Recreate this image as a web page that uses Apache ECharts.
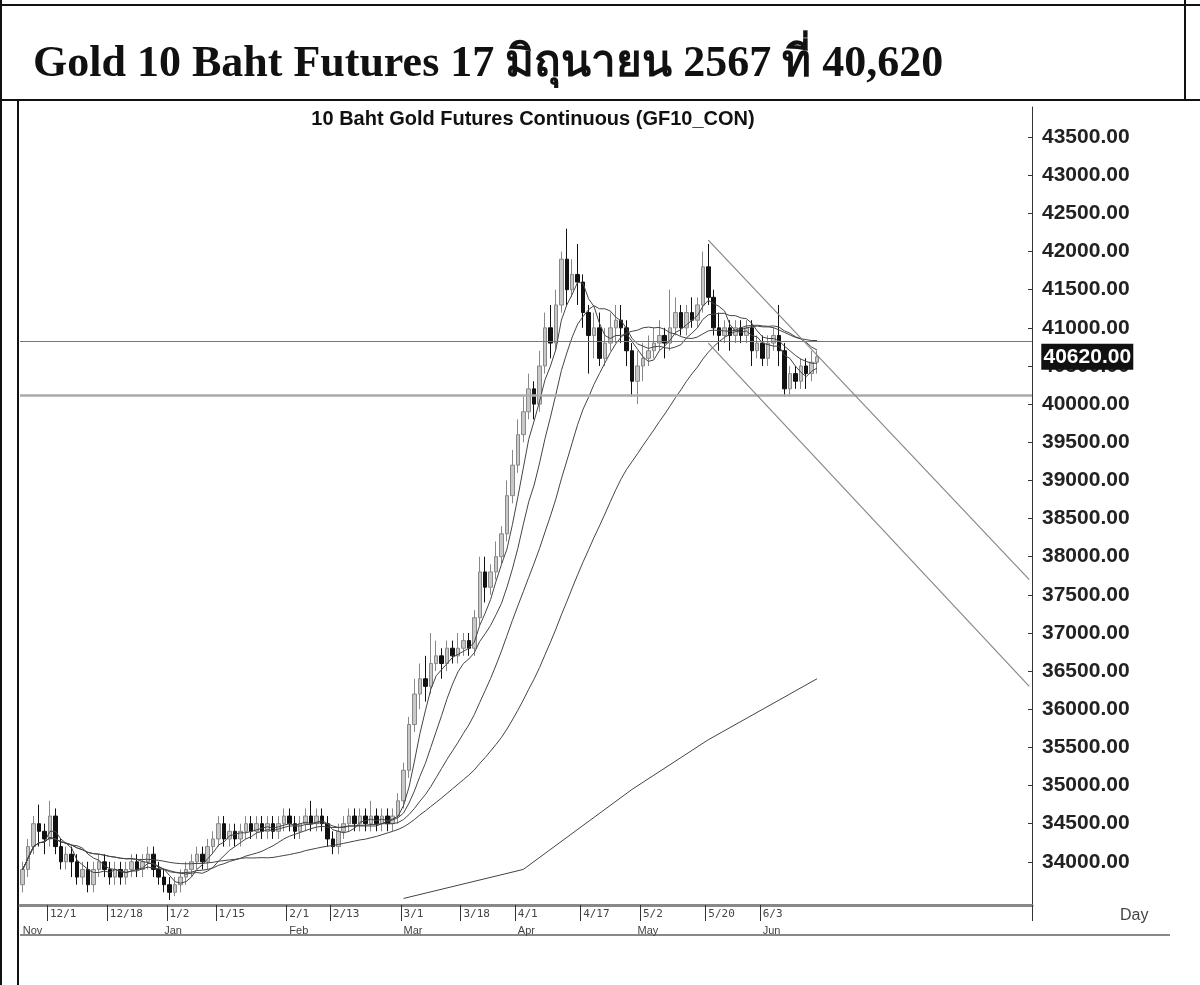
<!DOCTYPE html>
<html><head><meta charset="utf-8">
<script src="https://cdn.jsdelivr.net/npm/echarts@6/dist/echarts.min.js"></script>
<style>html,body{margin:0;padding:0;background:#fff}#c{width:1200px;height:985px}</style>
</head><body><div id="c"></div>
<script>
// [open, close, low, high] per trading day from 2023-11-24
const ohlc = [
[33700,33900,33600,34000],
[33900,34200,33800,34300],[34200,34500,34100,34600],[34500,34400,34200,34750],[34400,34300,34100,34500],[34300,34600,34200,34800],
[34600,34200,34100,34700],[34200,34000,33900,34300],[34000,34100,33900,34200],[34100,34000,33800,34200],[34000,33800,33700,34100],
[33800,33900,33700,34000],[33900,33700,33600,34000],[33700,33900,33600,34000],[33900,34000,33800,34100],[34000,33900,33800,34100],
[33900,33800,33700,34000],[33800,33900,33700,34000],[33900,33800,33700,34000],[33800,33900,33700,34000],[33900,34000,33800,34100],
[34000,33900,33800,34100],[33900,34000,33800,34100],[34000,34100,33900,34200],[34100,33900,33800,34200],[33900,33800,33700,34000],
[33800,33700,33600,33900],[33700,33600,33500,33800],[33600,33700,33550,33800],[33700,33800,33600,33900],[33800,33900,33700,34000],
[33900,34000,33800,34100],[34000,34100,33900,34200],[34100,34000,33900,34200],[34000,34200,33900,34300],[34200,34300,34100,34400],
[34300,34500,34200,34600],[34500,34300,34200,34600],[34300,34400,34200,34500],[34400,34300,34200,34500],[34300,34400,34200,34500],
[34400,34500,34300,34600],[34500,34400,34300,34600],[34400,34500,34300,34600],[34500,34400,34300,34600],[34400,34500,34300,34600],
[34500,34400,34300,34600],[34400,34500,34300,34600],[34500,34600,34400,34700],[34600,34500,34400,34700],[34500,34400,34300,34600],
[34400,34500,34300,34600],[34500,34600,34400,34700],[34600,34500,34400,34800],[34500,34600,34400,34700],[34600,34500,34400,34700],
[34500,34300,34200,34600],[34300,34200,34100,34400],[34200,34400,34100,34500],[34400,34500,34300,34600],[34500,34600,34400,34700],
[34600,34500,34400,34700],[34500,34600,34400,34700],[34600,34500,34400,34700],[34500,34600,34400,34800],[34600,34500,34400,34700],
[34500,34600,34400,34700],[34600,34500,34400,34700],[34500,34600,34400,34700],[34600,34800,34500,34900],[34800,35200,34700,35300],
[35200,35800,35100,35900],[35800,36200,35700,36400],[36200,36400,36000,36600],[36400,36300,36100,36700],[36300,36600,36200,37000],
[36600,36700,36500,36900],[36700,36600,36400,36800],[36600,36800,36500,36900],[36800,36700,36600,36900],[36700,36800,36600,37000],
[36800,36900,36700,37000],[36900,36800,36700,37000],[36800,37200,36700,37300],[37200,37800,37100,38000],[37800,37600,37400,38000],
[37600,37800,37500,37900],[37800,38000,37700,38200],[38000,38300,37900,38400],[38300,38800,38200,39000],[38800,39200,38700,39400],
[39200,39600,39100,39800],[39600,39900,39500,40100],[39900,40200,39800,40400],[40200,40000,39800,40300],[40000,40500,39900,40700],
[40500,41000,40400,41200],[41000,40800,40600,41300],[40800,41300,40700,41500],[41300,41900,41200,42000],[41900,41500,41300,42300],
[41500,41700,41400,41900],[41700,41600,41300,42100],[41600,41200,41000,41700],[41200,40900,40400,41300],[40900,41000,40600,41200],
[41000,40600,40500,41200],[40600,40800,40500,41000],[40800,41000,40700,41200],[41000,41100,40800,41300],[41100,41000,40800,41300],
[41000,40700,40500,41100],[40700,40300,40100,40800],[40300,40500,40000,40700],[40500,40600,40300,40800],[40600,40700,40500,40900],
[40700,40800,40600,41000],[40800,40900,40700,41100],[40900,40800,40600,41000],[40800,41000,40700,41500],[41000,41200,40900,41400],
[41200,41000,40900,41300],[41000,41200,40900,41300],[41200,41100,41000,41400],[41100,41300,41000,41400],[41300,41800,41200,42000],
[41800,41400,41300,42100],[41400,41000,40900,41500],[41000,40900,40700,41200],[40900,41000,40800,41100],[41000,40900,40700,41100],
[40900,41000,40800,41100],[41000,40900,40800,41100],[40900,41000,40800,41100],[41000,40700,40500,41100],[40700,40800,40600,40900],
[40800,40600,40500,40900],[40600,40800,40500,40900],[40800,40900,40700,41000],[40900,40700,40500,41300],[40700,40200,40100,40800],
[40200,40400,40100,40500],[40400,40300,40200,40500],[40300,40500,40200,40600],[40500,40400,40200,40600],[40400,40550,40300,40700],
[40550,40620,40400,40700]
];
const TOTAL_SLOTS = 186;
const dateLabels = ['12/1','12/18','1/2','1/15','2/1','2/13','3/1','3/18','4/1','4/17','5/2','5/20','6/3'];
const monthNames = ['Jan','Feb','Mar','Apr','May','Jun','Jul','Aug','Sep','Oct','Nov','Dec'];
const shownMonths = ['Nov','Jan','Feb','Mar','Apr','May','Jun'];
const yTicks = [34000,34500,35000,35500,36000,36500,37000,37500,38000,38500,39000,39500,40000,40500,41000,41500,42000,42500,43000,43500];
// long moving average waypoints [slotIndex, value]
const longMA = [[70,33520],[92,33900],[112,34950],[126,35600],[146,36400]];
const hLines = [40820,40120];
const channelUpper = [[126,42150],[185,37700]];
const channelLower = [[126,40800],[185,36300]];

const cats=[], months=[]; let d=new Date(2023,10,24), prevM=-1;
while(cats.length<TOTAL_SLOTS){const wd=d.getDay(); if(wd>0&&wd<6){cats.push((d.getMonth()+1)+'/'+d.getDate()); const mn=monthNames[d.getMonth()]; months.push(d.getMonth()!==prevM&&shownMonths.includes(mn)?mn:''); prevM=d.getMonth();} d.setDate(d.getDate()+1);}
const closes=ohlc.map(r=>r[1]);
function ma(n){return closes.map((v,i)=>{const s=Math.max(0,i-n+1);let t=0;for(let j=s;j<=i;j++)t+=closes[j];return +(t/(i-s+1)).toFixed(1);});}
const longArr=new Array(TOTAL_SLOTS).fill(null); longMA.forEach(p=>longArr[p[0]]=p[1]);
const maStyle={type:'line',showSymbol:false,lineStyle:{color:'#444',width:1},silent:true};
const chart=echarts.init(document.getElementById('c'));
chart.setOption({
 animation:false,
 title:[{text:'Gold 10 Baht Futures 17 มิถุนายน 2567 ที่ 40,620',left:28,top:38,textStyle:{fontFamily:'Liberation Serif, Noto Sans',fontSize:44,fontWeight:'bold',color:'#111'}},
  {text:'10 Baht Gold Futures Continuous (GF10_CON)',left:528,top:104,textAlign:'center',textStyle:{fontFamily:'Liberation Sans',fontSize:20,fontWeight:'bold',color:'#111',letterSpacing:2}}],
 grid:{left:20,right:168,top:107,bottom:80},
 xAxis:[{type:'category',data:cats,boundaryGap:true,axisLine:{lineStyle:{color:'#888',width:3}},axisTick:{show:true,interval:(i,v)=>dateLabels.includes(v),length:16,lineStyle:{color:'#333'}},
   axisLabel:{interval:(i,v)=>dateLabels.includes(v),fontSize:11,color:'#444',fontFamily:'DejaVu Sans Mono',align:'left',margin:4}},
  {type:'category',data:cats,position:'bottom',offset:18,axisLine:{show:false},axisTick:{show:false},
   axisLabel:{interval:(i)=>months[i]!=='',formatter:(v,i)=>months[i],fontSize:11,color:'#444',align:'left',margin:2}}],
 yAxis:{type:'value',position:'right',min:33434,max:43895,axisLine:{show:true,lineStyle:{color:'#333'}},splitLine:{show:false},
  axisTick:{show:true,customValues:yTicks,inside:true,length:4},axisLabel:{customValues:yTicks,formatter:v=>v.toFixed(2),fontSize:21,fontWeight:'bold',fontFamily:'Liberation Sans',color:'#222',margin:10}},
 series:[
  {type:'candlestick',data:ohlc,barWidth:4,itemStyle:{color:'#c8c8c8',color0:'#111',borderColor:'#888',borderColor0:'#111'},
   markLine:{symbol:'none',silent:true,label:{show:false},lineStyle:{color:'#888',width:1.2,type:'solid'},
    data:[{yAxis:hLines[0],lineStyle:{color:'#777',width:1}},{yAxis:hLines[1],lineStyle:{color:'#aaa',width:2.5}},
     [{coord:[channelUpper[0][0],channelUpper[0][1]]},{coord:[channelUpper[1][0],channelUpper[1][1]]}],
     [{coord:[channelLower[0][0],channelLower[0][1]]},{coord:[channelLower[1][0],channelLower[1][1]]}]]},
   markPoint:{symbol:'rect',symbolSize:[92,26],silent:true,itemStyle:{color:'#111'},label:{color:'#fff',fontSize:21,fontWeight:'bold',fontFamily:'Liberation Sans',formatter:'40620.00'},
    data:[{coord:[TOTAL_SLOTS-1,40620],symbolOffset:[58,0]}]}},
  Object.assign({data:ma(5)},maStyle),
  Object.assign({data:ma(10)},maStyle),
  Object.assign({data:ma(20)},maStyle),
  Object.assign({data:ma(40)},maStyle),
  Object.assign({data:longArr,connectNulls:true,smooth:false},maStyle)
 ],
 graphic:[
  {type:'line',shape:{x1:0,y1:5,x2:1200,y2:5},style:{stroke:'#111',lineWidth:2}},
  {type:'line',shape:{x1:1,y1:0,x2:1,y2:985},style:{stroke:'#111',lineWidth:2}},
  {type:'line',shape:{x1:0,y1:100,x2:1200,y2:100},style:{stroke:'#111',lineWidth:2}},
  {type:'line',shape:{x1:18,y1:100,x2:18,y2:985},style:{stroke:'#111',lineWidth:2}},
  {type:'line',shape:{x1:1185,y1:0,x2:1185,y2:100},style:{stroke:'#111',lineWidth:2}},
  {type:'line',shape:{x1:20,y1:935,x2:1170,y2:935},style:{stroke:'#888',lineWidth:2}},
  {type:'text',x:1120,y:908,style:{text:'Day',fontSize:16,fill:'#444'}}
 ]
});
</script></body></html>
